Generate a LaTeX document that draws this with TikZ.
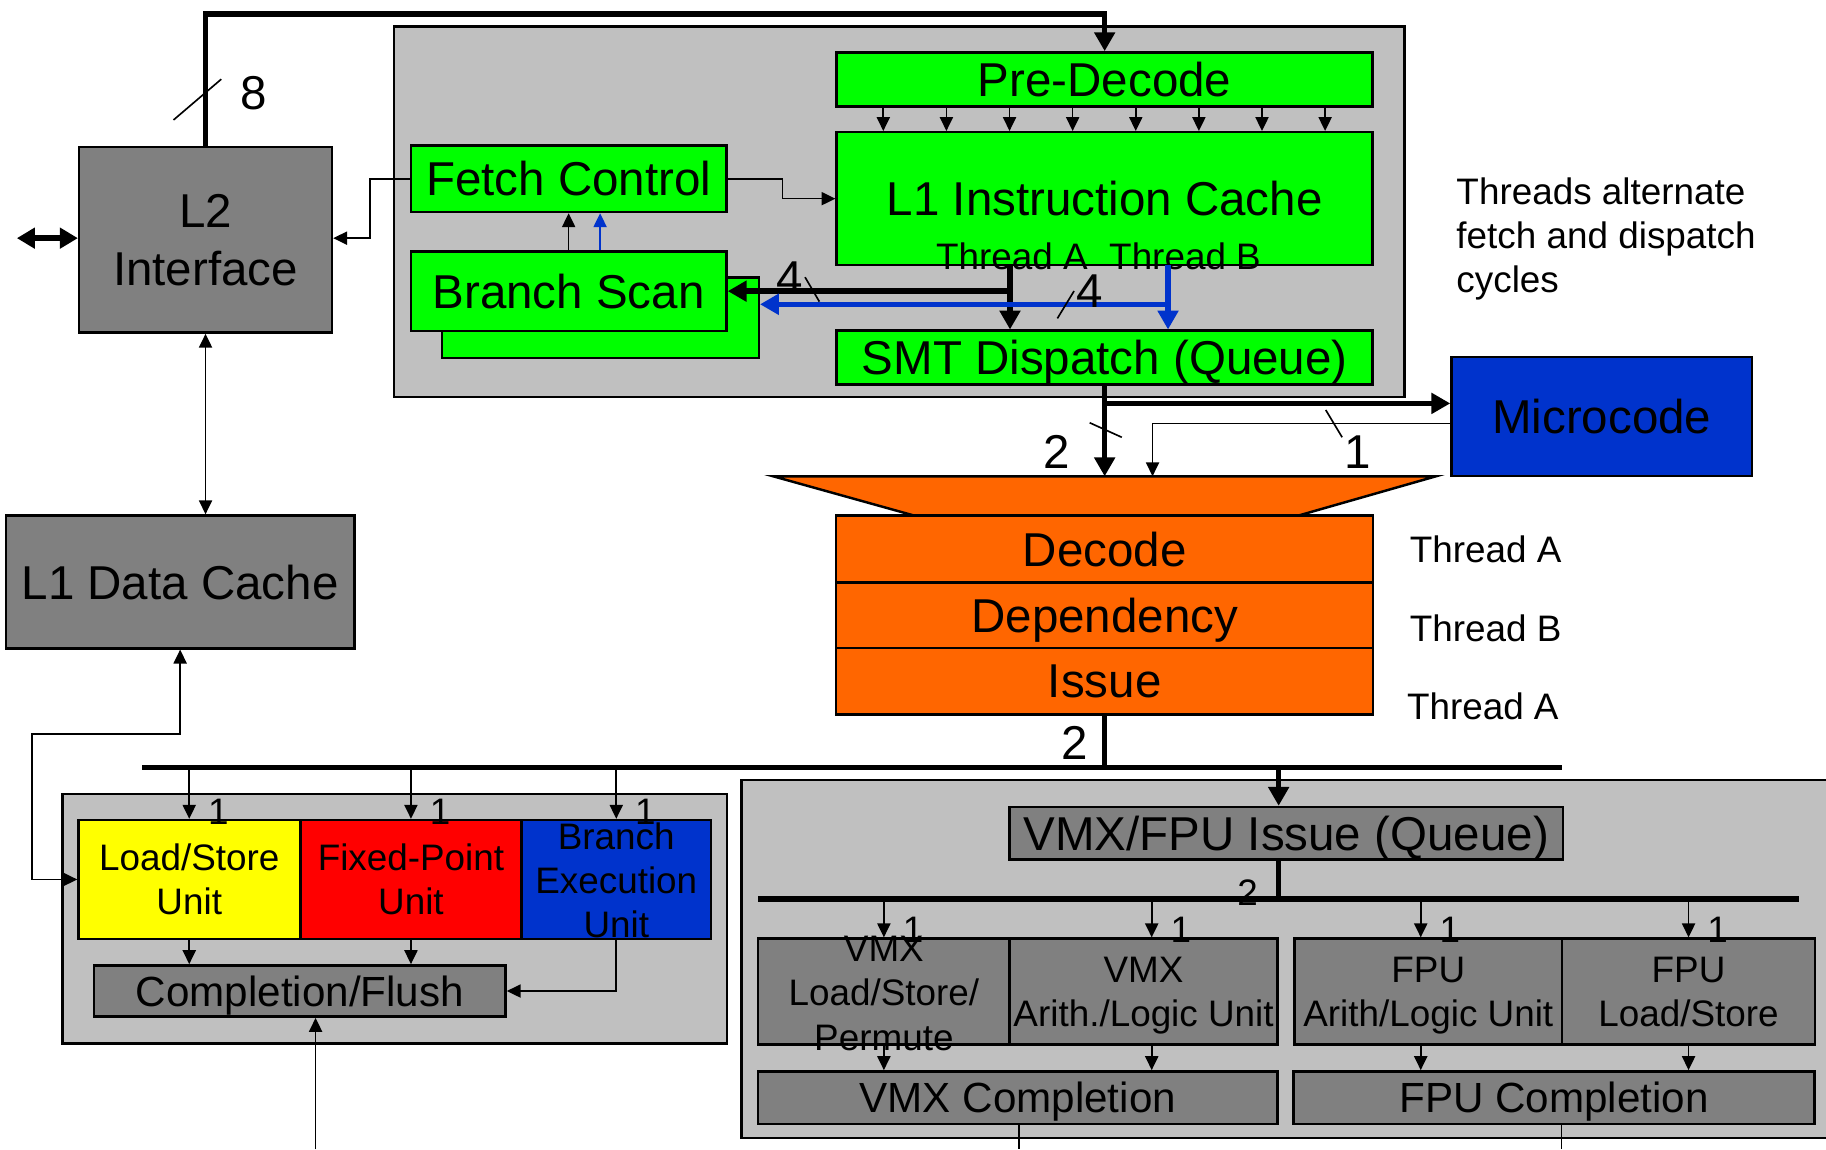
\documentclass[tikz,border=0pt]{standalone}
\usepackage{fontspec}
\setmainfont{Liberation Sans}
\usetikzlibrary{arrows.meta}

\definecolor{boxgray}{HTML}{C0C0C0}
\definecolor{unitgray}{HTML}{808080}
\definecolor{cellgreen}{HTML}{00FF00}
\definecolor{cellblue}{HTML}{0033CC}
\definecolor{cellorange}{HTML}{FF6600}
\definecolor{cellred}{HTML}{FF0000}
\definecolor{cellyellow}{HTML}{FFFF00}

\tikzset{
  bigtxt/.style={font=\fontsize{11.6}{14.2}\selectfont},
  midtxt/.style={font=\fontsize{10.3}{12}\selectfont},
  smalltxt/.style={font=\fontsize{9}{10.8}\selectfont},
  blk/.style={draw, line width=0.6pt, inner sep=0pt, align=center, text depth=0pt},
  thinarr/.style={line width=0.4pt, -{Triangle[length=3.4pt,width=3.2pt]}},
  thinboth/.style={line width=0.4pt, {Triangle[length=3.4pt,width=3.2pt]}-{Triangle[length=3.4pt,width=3.2pt]}},
  thickarr/.style={line width=1.3pt, -{Triangle[length=4.6pt,width=4.9pt]}},
  thickline/.style={line width=1.3pt},
  slash/.style={line width=0.4pt},
}

\begin{document}
\begin{tikzpicture}[x=0.01cm, y=-0.01cm]
    \useasboundingbox (0,0) rectangle (1568,987);
    % enclosing units
    \node[blk, fill=boxgray, minimum width=8.67cm, minimum height=3.18cm] (ifu) at (772.2,181.8) {};
    \node[blk, fill=boxgray, minimum width=5.70cm, minimum height=2.14cm] (fxblk) at (339,789) {};
    \node[blk, fill=boxgray, minimum width=9.43cm, minimum height=3.07cm] (vxblk) at (1108.5,823.5) {};
    % fetch side
    \node[blk, fill=unitgray, bigtxt, minimum width=2.17cm, minimum height=1.59cm] (l2) at (176.5,206) {L2\\Interface};
    \node[blk, fill=cellgreen, bigtxt, minimum width=2.71cm, minimum height=0.57cm] (fetch) at (488.3,153.5) {Fetch Control};
    \node[blk, fill=cellgreen, minimum width=2.72cm, minimum height=0.69cm] (bscanb) at (515.5,272.7) {};
    \node[blk, fill=cellgreen, bigtxt, minimum width=2.71cm, minimum height=0.68cm] (bscan) at (488.3,250) {Branch Scan};
    \node[blk, fill=cellgreen, bigtxt, minimum width=4.60cm, minimum height=0.466cm] (predec) at (948.6,68.3) {Pre-Decode};
    \node[blk, fill=cellgreen, bigtxt, minimum width=4.60cm, minimum height=1.14cm] (l1i) at (948.6,170.6) {L1 Instruction Cache};
    \node[smalltxt] (thra) at (869,220.4) {Thread A};
    \node[smalltxt] (thrb) at (1017.6,220.4) {Thread B};
    \node[blk, fill=cellgreen, bigtxt, minimum width=4.60cm, minimum height=0.46cm] (smt) at (948.6,307) {SMT Dispatch (Queue)};
    \node[smalltxt, anchor=west, align=left, inner sep=0pt] (note) at (1250,205) {Threads alternate\\fetch and dispatch\\cycles};
    \node[blk, fill=cellblue, bigtxt, minimum width=2.58cm, minimum height=1.02cm] (mcode) at (1375.5,357.6) {Microcode};
    % decode pipe
    \draw[fill=cellorange, line width=0.6pt] (664,409) -- (1233,409) -- (1114,443) -- (786,443) -- cycle;
    \node[blk, fill=cellorange, bigtxt, minimum width=4.61cm, minimum height=0.572cm] (dec) at (948.6,471.4) {Decode};
    \node[blk, fill=cellorange, bigtxt, minimum width=4.61cm, minimum height=0.567cm] (dep) at (948.6,528.4) {Dependency};
    \node[blk, fill=cellorange, bigtxt, minimum width=4.61cm, minimum height=0.567cm] (iss) at (948.6,585) {Issue};
    \node[smalltxt] (stga) at (1275.7,471.5) {Thread A};
    \node[smalltxt] (stgb) at (1275.7,539.6) {Thread B};
    \node[smalltxt] (stgc) at (1273.3,606.9) {Thread A};
    \node[blk, fill=unitgray, bigtxt, minimum width=2.99cm, minimum height=1.14cm] (l1d) at (154.7,499.7) {L1 Data Cache};
    % fixed point side
    \node[blk, fill=cellyellow, smalltxt, minimum width=1.90cm, minimum height=1.02cm] (lsu) at (162.5,755.2) {Load/Store\\Unit};
    \node[blk, fill=cellred, smalltxt, minimum width=1.90cm, minimum height=1.02cm] (fxu) at (352.9,755.2) {Fixed-Point\\Unit};
    \node[blk, fill=cellblue, minimum width=1.63cm, minimum height=1.02cm] (bxu) at (529.2,755.2) {};
    \node[smalltxt, align=center] (bxutxt) at (529.2,756) {Branch\\Execution\\Unit};
    \node[blk, fill=unitgray, midtxt, minimum width=3.53cm, minimum height=0.44cm] (cfl) at (257.5,851) {Completion/Flush};
    % vmx / fpu side
    \node[blk, fill=unitgray, bigtxt, minimum width=4.75cm, minimum height=0.45cm] (vfq) at (1104.5,715.5) {VMX/FPU Issue (Queue)};
    \node[blk, fill=unitgray, minimum width=2.16cm, minimum height=0.91cm] (vlsp) at (759,851.5) {};
    \node[smalltxt, align=center] (vlsptxt) at (759,853) {VMX\\Load/Store/\\Permute};
    \node[blk, fill=unitgray, smalltxt, minimum width=2.30cm, minimum height=0.91cm] (valu) at (982,851.5) {VMX\\Arith./Logic Unit};
    \node[blk, fill=unitgray, smalltxt, minimum width=2.30cm, minimum height=0.91cm] (falu) at (1226.5,851.5) {FPU\\Arith/Logic Unit};
    \node[blk, fill=unitgray, smalltxt, minimum width=2.17cm, minimum height=0.91cm] (fls) at (1450,851.5) {FPU\\Load/Store};
    \node[blk, fill=unitgray, midtxt, minimum width=4.46cm, minimum height=0.45cm] (vcomp) at (874,942.5) {VMX Completion};
    \node[blk, fill=unitgray, midtxt, minimum width=4.47cm, minimum height=0.45cm] (fcomp) at (1334.5,942.5) {FPU Completion};
    % free ends and taps
    \coordinate (ext) at (14.5,204.5);
    \coordinate (tA) at (867.3,227.6);
    \coordinate (tB) at (1003,227.6);
    \coordinate (tBj) at (1003,261.3);
    \coordinate (mctap) at (948.6,346.4);
    \coordinate (mcout) at (1246.3,363.5);
    \coordinate (fntop) at (948.6,409);
    \coordinate (mcin) at (989.7,409);
    \coordinate (ldsw) at (27.5,630.5);
    \coordinate (busL) at (122,659);
    \coordinate (busR) at (1341,659);
    \coordinate (vfin) at (1098,659);
    \coordinate (vbusL) at (651,772);
    \coordinate (vbusR) at (1545,772);
    \coordinate (cflin) at (271,987);
    \coordinate (vout) at (875,987);
    \coordinate (fout) at (1341,987);
    % l2 and fetch
    \draw[thickarr] (l2.north) -- ++(0,-113.5) -| (predec.north);
    \draw[slash] (149,103) -- (190,68);
    \node[bigtxt] (n8) at (217.8,80) {8};
    \draw[line width=1.3pt, {Triangle[length=4.4pt,width=4.9pt]}-{Triangle[length=4.4pt,width=4.9pt]}] (ext) -- (ext -| l2.west);
    \draw[thinboth] (l2.south) -- (l2.south |- l1d.north);
    \draw[thinarr] (fetch.west) -- ++(-34,0) |- (ext -| l2.east);
    \draw[thinarr] (fetch.east) -- ++(47,0) |- (l1i.west);
    \draw[thinarr] (bscan.north) -- (fetch.south);
    \draw[thinarr, cellblue] ([xshift=0.27cm]bscan.north) -- ([xshift=0.27cm]fetch.south);
    \foreach \i in {0,...,7} {
      \coordinate (pd\i) at (758.5+54.2*\i,0);
      \draw[thinarr] (predec.south -| pd\i) -- (l1i.north -| pd\i);
    }
    % thread paths
    \draw[thickarr] (tA) -- (tA |- smt.north);
    \draw[thickarr] (tA |- bscan.east) -- (bscan.east);
    \draw[thickarr, cellblue] (tB) -- (tB |- smt.north);
    \draw[thickarr, cellblue] (tBj) -- (tBj -| bscanb.east);
    \node[bigtxt] (n4a) at (677.8,239) {4};
    \draw[slash] (691.3,238) -- (703.6,259);
    \node[bigtxt] (n4b) at (935.4,250) {4};
    \draw[slash] (908,273.4) -- (922.3,249.9);
    % dispatch to decode
    \draw[thickarr] (smt.south) -- (fntop);
    \draw[thickarr] (mctap) -- (mctap -| mcode.west);
    \draw[thinarr] (mcout) -| (mcin);
    \draw[slash] (935.7,363) -- (963.3,375.5);
    \node[bigtxt] (n2a) at (907.7,388) {2};
    \draw[slash] (1138.4,352) -- (1152.5,375.5);
    \node[bigtxt] (n1a) at (1166,388) {1};
    % issue bus
    \draw[thickline] (iss.south) -- (iss.south |- busL);
    \node[bigtxt] (n2b) at (922.5,638) {2};
    \draw[thickline] (busL) -- (busR);
    \foreach \n in {lsu,fxu,bxu} {
      \draw[thinarr] (busL -| \n.north) -- (\n.north);
      \node[smalltxt] at ([xshift=0.25cm,yshift=0.06cm]\n.north) {1};
    }
    \draw[thinboth] (l1d.south) |- (ldsw) |- (lsu.west);
    \draw[thinarr] (lsu.south) -- (lsu.south |- cfl.north);
    \draw[thinarr] (fxu.south) -- (fxu.south |- cfl.north);
    \draw[thinarr] (bxu.south) |- (cfl.east);
    \draw[thinarr] (cflin) -- (cflin |- cfl.south);
    % vmx / fpu bus
    \draw[thickarr] (vfin) -- (vfin |- vfq.north);
    \draw[thickline] (vfin |- vfq.south) -- (vfin |- vbusL);
    \draw[thickline] (vbusL) -- (vbusR);
    \node[smalltxt] (n2c) at (1071.3,766.6) {2};
    \foreach \x/\n/\c in {759/vlsp/vcomp, 989/valu/vcomp, 1220/falu/fcomp, 1450/fls/fcomp} {
      \coordinate (a\n) at (\x,0);
      \draw[thinarr] (vbusL -| a\n) -- (\n.north -| a\n);
      \draw[thinarr] (\n.south -| a\n) -- (\c.north -| a\n);
      \node[smalltxt] at (\x+25,798.6) {1};
    }
    \draw[line width=0.4pt] (vout |- vcomp.south) -- (vout);
    \draw[line width=0.4pt] (fout |- fcomp.south) -- (fout);
\end{tikzpicture}
\end{document}
